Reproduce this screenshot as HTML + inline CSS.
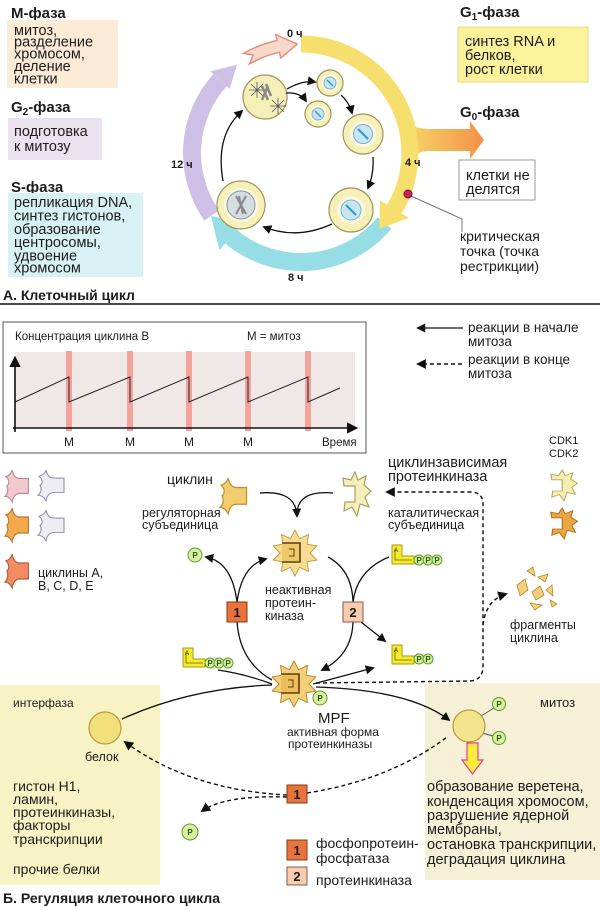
<!DOCTYPE html>
<html><head><meta charset="utf-8">
<style>
html,body{margin:0;padding:0;background:#fff;}
svg{display:block;}
text{font-family:"Liberation Sans","DejaVu Sans",sans-serif;fill:#1c1c1c;}
.b{font-weight:bold;}
.pc{fill:#d9efa0;stroke:#5e9a2a;stroke-width:1;}
.pt{font-size:8px;font-weight:bold;fill:#2a5a10;text-anchor:middle;}
.ln{fill:none;stroke:#111;stroke-width:1.3;}
.dl{fill:none;stroke:#111;stroke-width:1.4;stroke-dasharray:4 3;}
.cell{fill:#f5efb8;stroke:#a0955a;stroke-width:1.2;}
.ring{fill:#fbf8df;stroke:none;}
.nuc{fill:#c6e6f2;stroke:#7fb0c8;stroke-width:1;}
</style></head><body>
<svg width="600" height="907" viewBox="0 0 600 907" xmlns="http://www.w3.org/2000/svg">
<defs>
<marker id="ah" viewBox="0 0 10 10" refX="8" refY="5" markerWidth="7" markerHeight="7" orient="auto"><path d="M0,0 L10,5 L0,10 Z" fill="#111"/></marker>
<linearGradient id="g0" x1="0" y1="0" x2="1" y2="0"><stop offset="0" stop-color="#f6df6c"/><stop offset="1" stop-color="#f39148"/></linearGradient>
</defs>

<!-- ============ SECTION A ============ -->
<text class="b" x="11" y="18" font-size="15">М-фаза</text>
<rect x="7" y="20" width="111" height="68" fill="#fcebd7"/>
<g font-size="14.5">
<text x="14" y="35">митоз,</text>
<text x="14" y="46.5">разделение</text>
<text x="14" y="58.5">хромосом,</text>
<text x="14" y="71">деление</text>
<text x="14" y="83.5">клетки</text>
</g>

<text class="b" x="11" y="112" font-size="15">G<tspan font-size="10" dy="3">2</tspan><tspan dy="-3">-фаза</tspan></text>
<rect x="8" y="118" width="94" height="42" fill="#ebe2ef"/>
<g font-size="14.5">
<text x="14" y="136">подготовка</text>
<text x="14" y="151">к митозу</text>
</g>

<text class="b" x="11" y="192" font-size="15">S-фаза</text>
<rect x="8" y="193" width="135" height="84" fill="#d8f1f4"/>
<g font-size="14.5">
<text x="14" y="207">репликация DNA,</text>
<text x="14" y="220.5">синтез гистонов,</text>
<text x="14" y="234">образование</text>
<text x="14" y="247">центросомы,</text>
<text x="14" y="260.5">удвоение</text>
<text x="14" y="272.5">хромосом</text>
</g>

<text class="b" x="3" y="300" font-size="14">А. Клеточный цикл</text>
<rect x="0" y="303" width="600" height="2" fill="#4a4a4a"/>

<text class="b" x="460" y="17" font-size="15">G<tspan font-size="10" dy="3">1</tspan><tspan dy="-3">-фаза</tspan></text>
<rect x="458" y="27" width="130" height="55" fill="#fbf29b" stroke="#e9dc80"/>
<g font-size="14.5">
<text x="465" y="46">синтез RNA и</text>
<text x="465" y="60">белков,</text>
<text x="465" y="74">рост клетки</text>
</g>
<text class="b" x="460" y="117" font-size="15">G<tspan font-size="10" dy="3">0</tspan><tspan dy="-3">-фаза</tspan></text>
<rect x="459" y="160" width="76" height="40" fill="#fff" stroke="#999"/>
<g font-size="14.5">
<text x="466" y="180">клетки не</text>
<text x="466" y="194">делятся</text>
</g>
<g font-size="14">
<text x="460" y="241">критическая</text>
<text x="460" y="256">точка (точка</text>
<text x="460" y="271">рестрикции)</text>
</g>

<!-- cycle ring -->
<path d="M211.7,215.5 A109,109 0 0 1 220.0,80.1" fill="none" stroke="#cdbfe6" stroke-width="18"/>
<polygon points="210.3,71.4 229.7,88.8 236.9,64.8" fill="#cdbfe6"/>
<path d="M384.5,223.1 A109,109 0 0 1 230.9,236.5" fill="none" stroke="#96dde6" stroke-width="18"/>
<polygon points="219.4,250.3 242.5,222.7 211,216" fill="#96dde6"/>
<path d="M243.5,53.4 A115,115 0 0 1 277.1,40.5 L275.8,34.6 L297.2,44.1 L280.8,58.1 L279.6,52.3 A103,103 0 0 0 249.5,63.8 L253.2,55.0 Z" fill="#f7d9c9" stroke="#e58f86" stroke-width="1.5"/>
<path d="M398,112 Q406,128 428,129 L470,129 L470,121 L484,140 L470,159 L470,151 L428,151 Q410,152 406,170 Z" fill="url(#g0)"/>
<path d="M301,44 A109,109 0 0 1 394.4,209.1" fill="none" stroke="#f6df6c" stroke-width="17"/>
<polygon points="409.0,217.9 379.9,200.4 379.4,228.7" fill="#f6df6c"/>

<g font-size="11" class="b">
<text x="287" y="37">0 ч</text>
<text x="405" y="166">4 ч</text>
<text x="171" y="168">12 ч</text>
<text x="288" y="281">8 ч</text>
</g>
<path d="M411,196 L462,219 L462,232" fill="none" stroke="#777" stroke-width="1"/>
<circle cx="408" cy="194" r="4" fill="#d61f5a" stroke="#6a1030" stroke-width="1"/>

<!-- cells -->
<circle class="cell" cx="265" cy="97" r="22"/>
<path d="M249,90 L265,90 M257,82 L257,98 M251,84 L263,96 M251,96 L263,84 M270,106 L286,106 M278,98 L278,114 M272,100 L284,112 M272,112 L284,100" stroke="#556" stroke-width="0.8"/>
<path d="M262,86 L268,100 M268,86 L262,100 M266,84 L271,96" stroke="#8a8a8a" stroke-width="2.5"/>

<circle class="cell" cx="330" cy="83" r="13"/><circle class="ring" cx="330" cy="83" r="8.5"/><circle class="nuc" cx="330" cy="83" r="6"/><path d="M327,80 L333,86" stroke="#2d9ad0" stroke-width="1.5"/>
<circle class="cell" cx="318" cy="114" r="13"/><circle class="ring" cx="318" cy="114" r="8.5"/><circle class="nuc" cx="318" cy="114" r="6"/><path d="M315,111 L321,117" stroke="#2d9ad0" stroke-width="1.5"/>
<circle class="cell" cx="363" cy="134" r="20"/><circle class="ring" cx="363" cy="134" r="13"/><circle class="nuc" cx="363" cy="134" r="9.5"/><path d="M358,129 L368,139" stroke="#2d9ad0" stroke-width="2"/>
<circle class="cell" cx="351" cy="210" r="22"/><circle class="ring" cx="351" cy="210" r="14"/><circle class="nuc" cx="351" cy="210" r="10"/><path d="M346,205 L356,215" stroke="#2d9ad0" stroke-width="2"/>
<circle class="cell" cx="241" cy="205" r="24"/><circle class="ring" cx="241" cy="205" r="17"/><circle cx="241" cy="205" r="14" fill="#d5dde2" stroke="#8a9aa4"/>
<path d="M236,196 L246,214 M246,196 L236,214 M239,196 L243,214" stroke="#8a8a8a" stroke-width="2"/>

<path class="ln" d="M287,89 Q303,80 315,82" marker-end="url(#ah)"/>
<path class="ln" d="M286,93 Q300,92 306,101" marker-end="url(#ah)"/>
<path class="ln" d="M341,95 Q349,102 352,113" marker-end="url(#ah)"/>
<path class="ln" d="M373,157 Q374,174 368,188" marker-end="url(#ah)"/>
<path class="ln" d="M332,224 Q297,240 264,227" marker-end="url(#ah)"/>
<path class="ln" d="M223,181 Q215,135 242,111" marker-end="url(#ah)"/>

<!-- ============ SECTION B ============ -->
<rect x="3" y="322" width="363" height="131" fill="#fff" stroke="#555" stroke-width="1"/>
<rect x="15" y="352" width="340" height="76" fill="#efe8e6"/>
<g fill="#f3a29c">
<rect x="66" y="351" width="6" height="80"/>
<rect x="127" y="351" width="6" height="80"/>
<rect x="186" y="351" width="6" height="80"/>
<rect x="245" y="351" width="6" height="80"/>
<rect x="305" y="351" width="6" height="80"/>
</g>
<path d="M15,432 L15,358" fill="none" stroke="#111" stroke-width="1.6" marker-end="url(#ah)"/>
<path d="M13,428 L356,428" fill="none" stroke="#111" stroke-width="1.6" marker-end="url(#ah)"/>
<polyline points="15,402 69,377 69,402 130,377 130,402 189,377 189,402 248,377 248,402 308,377 308,402 340,388" fill="none" stroke="#222" stroke-width="1"/>
<text x="15" y="340" font-size="11.5">Концентрация циклина В</text>
<text x="247" y="340" font-size="11.5">M = митоз</text>
<g font-size="12" text-anchor="middle">
<text x="69" y="446">M</text><text x="130" y="446">M</text><text x="189" y="446">M</text><text x="248" y="446">M</text>
</g>
<text x="322" y="446" font-size="11.5">Время</text>

<path class="ln" d="M463,328 L418,328" marker-end="url(#ah)"/>
<path class="dl" d="M462,364 L418,364" marker-end="url(#ah)"/>
<g font-size="13.5">
<text x="468" y="332">реакции в начале</text>
<text x="468" y="346">митоза</text>
<text x="468" y="364">реакции в конце</text>
<text x="468" y="378">митоза</text>
</g>

<text x="549" y="444" font-size="11">CDK1</text>
<text x="549" y="457" font-size="11">CDK2</text>
<path transform="translate(548,470) scale(0.95,0.7)" d="M15,0 L18,8 L26,4 L24,13 L31,19 L25,25 L29,35 L20,32 L17,44 L12,35 L4,39 L5,30 L15,30 L15,14 L4,14 L3,6 L11,8 Z" fill="#f6eeb0" stroke="#b8a860" stroke-width="1.2"/>
<path transform="translate(548,508) scale(0.95,0.7)" d="M15,0 L18,8 L26,4 L24,13 L31,19 L25,25 L29,35 L20,32 L17,44 L12,35 L4,39 L5,30 L15,30 L15,14 L4,14 L3,6 L11,8 Z" fill="#eaa642" stroke="#b07020" stroke-width="1.2"/>

<text x="388" y="467" font-size="14.5">циклинзависимая</text>
<text x="388" y="481" font-size="14.5">протеинкиназа</text>
<path transform="translate(340,472)" d="M15,0 L18,8 L26,4 L24,13 L31,19 L25,25 L29,35 L20,32 L17,44 L12,35 L4,39 L5,30 L15,30 L15,14 L4,14 L3,6 L11,8 Z" fill="#f5eebb" stroke="#a8a060" stroke-width="1.2"/>
<text x="388" y="517" font-size="12.5">каталитическая</text>
<text x="388" y="529" font-size="12.5">субъединица</text>

<!-- left cyclins -->
<g stroke-width="1.2">
<path transform="translate(5,470) scale(0.9,0.94)" d="M8,0 C9,5 11,9 16,9 L26,9 L26,25 L16,25 C11,25 9,29 8,34 C6,30 3,28 0,28 C3,25 4,21 2,17 C5,15 5,10 1,7 C4,6 7,4 8,0 Z" fill="#f2c8cf" stroke="#b88a94"/>
<path transform="translate(38,470) scale(1,0.9)" d="M8,0 C9,5 11,9 16,9 L26,9 L26,25 L16,25 C11,25 9,29 8,34 C6,30 3,28 0,28 C3,25 4,21 2,17 C5,15 5,10 1,7 C4,6 7,4 8,0 Z" fill="#eeedf4" stroke="#9d97ad"/>
<path transform="translate(5,508) scale(0.9,1)" d="M8,0 C9,5 11,9 16,9 L26,9 L26,25 L16,25 C11,25 9,29 8,34 C6,30 3,28 0,28 C3,25 4,21 2,17 C5,15 5,10 1,7 C4,6 7,4 8,0 Z" fill="#f3a84c" stroke="#b8782a"/>
<path transform="translate(38,510) scale(1,0.9)" d="M8,0 C9,5 11,9 16,9 L26,9 L26,25 L16,25 C11,25 9,29 8,34 C6,30 3,28 0,28 C3,25 4,21 2,17 C5,15 5,10 1,7 C4,6 7,4 8,0 Z" fill="#eeedf4" stroke="#9d97ad"/>
<path transform="translate(5,554) scale(0.9,1)" d="M8,0 C9,5 11,9 16,9 L26,9 L26,25 L16,25 C11,25 9,29 8,34 C6,30 3,28 0,28 C3,25 4,21 2,17 C5,15 5,10 1,7 C4,6 7,4 8,0 Z" fill="#f28a64" stroke="#b85a3a"/>
</g>
<text x="38" y="577" font-size="12.5">циклины A,</text>
<text x="38" y="590" font-size="12.5">B, C, D, E</text>

<text x="167" y="484" font-size="14">циклин</text>
<path transform="translate(220,478) scale(1.02,1.05)" d="M8,0 C9,5 11,9 16,9 L26,9 L26,25 L16,25 C11,25 9,29 8,34 C6,30 3,28 0,28 C3,25 4,21 2,17 C5,15 5,10 1,7 C4,6 7,4 8,0 Z" fill="#f4cc70" stroke="#c09030" stroke-width="1.2"/>
<text x="142" y="517" font-size="12.5">регуляторная</text>
<text x="142" y="529" font-size="12.5">субъединица</text>

<path class="ln" d="M260,493 Q296,490 297,516" marker-end="url(#ah)"/>
<path class="ln" d="M333,493 Q299,490 297,512"/>

<!-- inactive kinase -->
<g transform="translate(295,553)">
<polygon points="0,-23 4.6,-14.3 13.5,-18.6 12.1,-8.8 21.9,-7.1 15,0 21.9,7.1 12.1,8.8 13.5,18.6 4.6,14.3 0,23 -4.6,14.3 -13.5,18.6 -12.1,8.8 -21.9,7.1 -15,0 -21.9,-7.1 -12.1,-8.8 -13.5,-18.6 -4.6,-14.3" fill="#f6dc95" stroke="#c8a040" stroke-width="1" stroke-linejoin="round"/>
<path d="M-13,-10 L5,-10 L5,9 L-13,9" fill="#f0c868" stroke="#5a4010" stroke-width="1.6"/>
<path d="M-6,-4 L-1,-4 L-1,3 L-6,3" fill="none" stroke="#5a4010" stroke-width="1"/>
</g>
<g font-size="12.5">
<text x="265" y="594">неактивная</text>
<text x="265" y="607">протеин-</text>
<text x="265" y="620">киназа</text>
</g>

<circle class="pc" cx="195" cy="555" r="7"/><text class="pt" x="195" y="558">P</text>
<path class="ln" d="M237,602 Q232,562 206,557" marker-end="url(#ah)"/>
<path class="ln" d="M237,602 Q242,565 266,559" marker-end="url(#ah)"/>
<path class="ln" d="M237,622 Q240,662 272,680"/>
<rect x="227" y="602" width="20" height="20" fill="#e8733c" stroke="#8a3a10"/>
<text class="b" x="237" y="617" font-size="13" text-anchor="middle">1</text>

<path class="ln" d="M328,557 Q352,570 353,602"/>
<path class="ln" d="M389,557 Q357,570 353,602"/>
<path class="ln" d="M353,622 Q352,655 322,670" marker-end="url(#ah)"/>
<path class="ln" d="M361,622 L385,641" marker-end="url(#ah)"/>
<rect x="343" y="602" width="20" height="20" fill="#f7cdb0" stroke="#8a5a40"/>
<text class="b" x="353" y="617" font-size="13" text-anchor="middle">2</text>

<!-- ATP left -->
<path d="M183,648 h10 v11 h12 v8 h-22 Z" fill="#f3ec2c" stroke="#a89a10"/>
<path d="M186,652 V663 H203" fill="none" stroke="#6a6010" stroke-width="0.8"/>
<text x="185" y="655" font-size="6">A</text>
<circle class="pc" cx="210" cy="663" r="5"/><circle class="pc" cx="219" cy="663" r="5"/><circle class="pc" cx="228" cy="663" r="5"/>
<text class="pt" x="210" y="666" font-size="6">P</text><text class="pt" x="219" y="666" font-size="6">P</text><text class="pt" x="228" y="666" font-size="6">P</text>
<path class="ln" d="M218,670 Q245,674 272,684"/>

<!-- ATP right -->
<path d="M392,545 h10 v11 h12 v8 h-22 Z" fill="#f3ec2c" stroke="#a89a10"/>
<path d="M395,549 V560 H412" fill="none" stroke="#6a6010" stroke-width="0.8"/>
<text x="394" y="552" font-size="6">A</text>
<circle class="pc" cx="419" cy="560" r="5"/><circle class="pc" cx="428" cy="560" r="5"/><circle class="pc" cx="437" cy="560" r="5"/>
<text class="pt" x="419" y="563" font-size="6">P</text><text class="pt" x="428" y="563" font-size="6">P</text><text class="pt" x="437" y="563" font-size="6">P</text>

<!-- ADP -->
<path d="M392,645 h10 v11 h12 v8 h-22 Z" fill="#f3ec2c" stroke="#a89a10"/>
<path d="M395,649 V660 H412" fill="none" stroke="#6a6010" stroke-width="0.8"/>
<text x="394" y="652" font-size="6">A</text>
<circle class="pc" cx="419" cy="659" r="5"/><circle class="pc" cx="428" cy="659" r="5"/>
<text class="pt" x="419" y="662" font-size="6">P</text><text class="pt" x="428" y="662" font-size="6">P</text>

<!-- fragments -->
<g fill="#f2cf78" stroke="#b08a30" stroke-width="0.8">
<polygon points="517,585 525,579 528,590 520,596"/>
<polygon points="527,571 533,567 535,576"/>
<polygon points="538,577 548,574 545,582"/>
<polygon points="532,592 540,586 544,595 536,600"/>
<polygon points="546,590 552,585 553,596"/>
<polygon points="530,603 542,605 535,610"/>
<polygon points="550,600 557,604 552,607"/>
</g>
<text x="510" y="629" font-size="12.5">фрагменты</text>
<text x="510" y="642" font-size="12.5">циклина</text>

<!-- dashed loop -->
<path class="dl" d="M316,683 L470,681 Q483,680 483,666 L483,504 Q483,492 470,492 L387,492" marker-end="url(#ah)"/>
<path class="dl" d="M483,625 Q486,600 506,594" marker-end="url(#ah)"/>

<!-- interphase box -->
<rect x="0" y="685" width="160" height="200" fill="#f8f3c4"/>
<text x="13" y="707" font-size="12">интерфаза</text>
<circle cx="105" cy="728" r="16" fill="#f3e07c" stroke="#b89a3a" stroke-width="1.2"/>
<text x="85" y="761" font-size="12.5">белок</text>
<g font-size="14">
<text x="13" y="791">гистон H1,</text>
<text x="13" y="804">ламин,</text>
<text x="13" y="817">протеинкиназы,</text>
<text x="13" y="830">факторы</text>
<text x="13" y="844">транскрипции</text>
<text x="13" y="874">прочие белки</text>
</g>

<!-- mitosis box -->
<rect x="425" y="683" width="175" height="197" fill="#f6f0d6"/>
<text x="540" y="707" font-size="13">митоз</text>

<!-- MPF -->
<path class="ln" d="M272,685 Q190,688 122,719"/>
<path class="ln" d="M316,687 Q410,690 449,720" marker-end="url(#ah)"/>
<path class="ln" d="M313,684 L373,668" marker-end="url(#ah)"/>
<g transform="translate(294,684)">
<polygon points="0,-23 4.6,-14.3 13.5,-18.6 12.1,-8.8 21.9,-7.1 15,0 21.9,7.1 12.1,8.8 13.5,18.6 4.6,14.3 0,23 -4.6,14.3 -13.5,18.6 -12.1,8.8 -21.9,7.1 -15,0 -21.9,-7.1 -12.1,-8.8 -13.5,-18.6 -4.6,-14.3" fill="#f3cf78" stroke="#b88a30" stroke-width="1" stroke-linejoin="round"/>
<path d="M-13,-10 L5,-10 L5,9 L-13,9" fill="#eebc58" stroke="#5a4010" stroke-width="1.6"/>
<path d="M-6,-4 L-1,-4 L-1,3 L-6,3" fill="none" stroke="#5a4010" stroke-width="1"/>
</g>
<circle class="pc" cx="320" cy="698" r="7"/><text class="pt" x="320" y="701">P</text>
<text x="318" y="723" font-size="15">MPF</text>
<text x="287" y="736" font-size="12">активная форма</text>
<text x="288" y="748" font-size="12">протеинкиназы</text>

<!-- mitosis cell -->
<path d="M481,716 L494,708 M482,733 L493,736" stroke="#555" stroke-width="1"/>
<circle cx="469" cy="726" r="16" fill="#f4e48e" stroke="#b89a3a" stroke-width="1.2"/>
<circle class="pc" cx="499" cy="704" r="6.5"/><text class="pt" x="499" y="707" font-size="7">P</text>
<circle class="pc" cx="499" cy="738" r="6.5"/><text class="pt" x="499" y="741" font-size="7">P</text>
<path d="M467,743 L478,743 L478,760 L483,760 L472.5,774 L462,760 L467,760 Z" fill="#f6ee3a" stroke="#e0409a" stroke-width="1.2"/>
<g font-size="14.5">
<text x="427" y="791">образование веретена,</text>
<text x="427" y="806">конденсация хромосом,</text>
<text x="427" y="820">разрушение ядерной</text>
<text x="427" y="834">мембраны,</text>
<text x="427" y="849">остановка транскрипции,</text>
<text x="427" y="864">деградация циклина</text>
</g>

<!-- dashed from box 1 -->
<path class="dl" d="M287,795 Q190,790 125,742" marker-end="url(#ah)"/>
<path class="dl" d="M287,797 Q225,795 202,811" marker-end="url(#ah)"/>
<path class="dl" d="M307,793 Q390,780 447,737"/>
<rect x="287" y="785" width="20" height="18" fill="#e8733c" stroke="#8a3a10"/>
<text class="b" x="297" y="799" font-size="13" text-anchor="middle">1</text>
<circle class="pc" cx="190" cy="832" r="8"/><text class="pt" x="190" y="835">P</text>

<!-- legend -->
<rect x="287" y="840" width="20" height="20" fill="#e8733c" stroke="#8a3a10"/>
<text class="b" x="297" y="855" font-size="13" text-anchor="middle">1</text>
<rect x="287" y="867" width="20" height="18" fill="#f7cdb0" stroke="#8a5a40"/>
<text class="b" x="297" y="881" font-size="13" text-anchor="middle">2</text>
<g font-size="14">
<text x="316" y="848">фосфопротеин-</text>
<text x="316" y="863">фосфатаза</text>
<text x="316" y="885">протеинкиназа</text>
</g>

<text class="b" x="3" y="903" font-size="14">Б. Регуляция клеточного цикла</text>
</svg>
</body></html>
